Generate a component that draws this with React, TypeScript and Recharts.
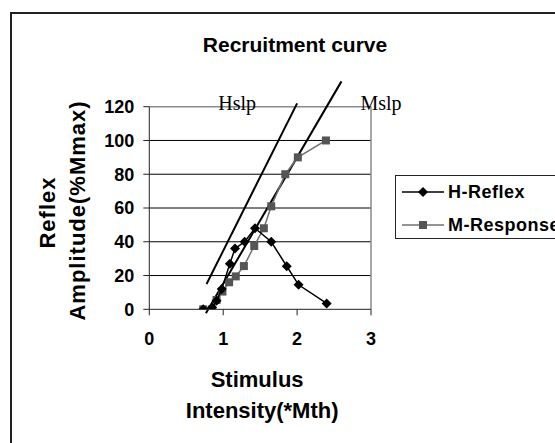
import React from "react";
import {
  ComposedChart,
  Scatter,
  XAxis,
  YAxis,
  CartesianGrid,
  ReferenceLine,
  ReferenceArea,
  ReferenceDot,
} from "recharts";

const TITLE = "Recruitment curve";
const X_TICKS = [0, 1, 2, 3];
const Y_TICKS = [0, 20, 40, 60, 80, 100, 120];

// H-Reflex (black diamonds)
const H_X = [0.73, 0.85, 0.91, 0.98, 1.09, 1.16, 1.29, 1.43, 1.65, 1.86, 2.02, 2.4];
const H_Y = [0, 1, 5, 12, 27, 36, 40, 48, 40, 25.5, 14.5, 3.5];

// M-Response (grey squares)
const M_X = [0.73, 0.85, 0.91, 0.99, 1.08, 1.17, 1.28, 1.42, 1.55, 1.65, 1.84, 2.01, 2.39];
const M_Y = [0, 0, 5.5, 10.5, 16, 19.5, 25.6, 37.5, 48, 61, 80, 90, 100];

// slope lines drawn by hand in the original
const HSLP = [
  { x: 0.775, y: 15 },
  { x: 2.0, y: 122 },
];
const MSLP = [
  { x: 0.766, y: -2.4 },
  { x: 2.6, y: 135 },
];

const hData = H_X.map((x, i) => ({ x, y: H_Y[i] }));
const mData = M_X.map((x, i) => ({ x, y: M_Y[i] }));

const C = {
  h: "#000000",
  mLine: "#707070",
  mFill: "#555555",
  grid: "#000000",
  axis: "#222222",
  border: "#8a8a8a",
};

const BOLD = "'Liberation Sans', Arial, sans-serif";
const SERIF = "'Liberation Serif', 'Times New Roman', serif";

const Diamond = ({ cx, cy }: any) => {
  if (cx == null || cy == null) return null;
  const r = 5;
  return (
    <polygon
      points={`${cx},${cy - r} ${cx + r},${cy} ${cx},${cy + r} ${cx - r},${cy}`}
      fill={C.h}
    />
  );
};

const Square = ({ cx, cy }: any) => {
  if (cx == null || cy == null) return null;
  const s = 8;
  return <rect x={cx - s / 2} y={cy - s / 2} width={s} height={s} fill={C.mFill} />;
};

const slopeText = (text: string) => ({ cx, cy }: any) => (
  <text
    x={cx}
    y={cy + 3.5}
    textAnchor="middle"
    fontFamily={SERIF}
    fontSize={20}
    fill="#000"
  >
    {text}
  </text>
);

const LEGEND_ITEMS = [
  { name: "H-Reflex", top: 16, color: C.h, line: C.h, shape: "d" },
  { name: "M-Response", top: 49, color: C.mFill, line: C.mLine, shape: "s" },
];

const LegendBox = () => (
  <div
    style={{
      position: "absolute",
      left: 395,
      top: 175,
      width: 200,
      height: 64,
      border: "1px solid #222",
      boxSizing: "border-box",
      background: "#fff",
      fontFamily: BOLD,
      fontWeight: 700,
      fontSize: 18,
      letterSpacing: 0.5,
    }}
  >
    {LEGEND_ITEMS.map((it) => (
      <div key={it.name} style={{ position: "absolute", left: 0, top: it.top - 12, height: 24, width: 200 }}>
        <svg width={50} height={24} style={{ position: "absolute", left: 6, top: 0 }}>
          <line x1={0} y1={12} x2={42} y2={12} stroke={it.line} strokeWidth={1.5} />
          {it.shape === "d" ? (
            <polygon points="21,7 26,12 21,17 16,12" fill={it.color} />
          ) : (
            <rect x={17} y={8} width={8} height={8} fill={it.color} />
          )}
        </svg>
        <span style={{ position: "absolute", left: 52, top: 0, lineHeight: "24px", color: "#000" }}>
          {it.name}
        </span>
      </div>
    ))}
  </div>
);

const XTitle = ({ viewBox }: any) => {
  const cx = viewBox.x + viewBox.width / 2;
  return (
    <g fontFamily={BOLD} fontWeight={700} fontSize={22} fill="#000">
      <text x={cx - 3} y={386.5} textAnchor="middle">Stimulus</text>
      <text x={cx + 2} y={418} textAnchor="middle">Intensity(*Mth)</text>
    </g>
  );
};

const YTitle = () => (
  <g fontFamily={BOLD} fontWeight={700} fontSize={22} fill="#000" letterSpacing={1}>
    <text x={47} y={212.5} textAnchor="middle" dominantBaseline="central" transform="rotate(-90 47 212.5)">
      Reflex
    </text>
    <text x={77} y={210.5} textAnchor="middle" dominantBaseline="central" transform="rotate(-90 77 210.5)">
      Amplitude(%Mmax)
    </text>
  </g>
);

const tickStyle = { fontFamily: BOLD, fontWeight: 700, fontSize: 18, fill: "#000" };

export default function App() {
  return (
    <div style={{ position: "absolute", left: 0, top: 0, width: 555, height: 443, overflow: "hidden", background: "#fff" }}>
      <div
        style={{
          position: "absolute",
          left: 10,
          top: 12,
          width: 700,
          height: 600,
          border: "2px solid #222",
        }}
      />
      <div
        style={{
          position: "absolute",
          left: 0,
          top: 30,
          width: 590,
          textAlign: "center",
          fontFamily: BOLD,
          fontWeight: 700,
          fontSize: 21,
          lineHeight: "30px",
        }}
      >
        {TITLE}
      </div>
      <div style={{ position: "absolute", left: 0, top: 0 }}>
        <ComposedChart
          width={555}
          height={443}
          margin={{ top: 106.7, left: 89.3, right: 184, bottom: 103.7 }}
          style={{ overflow: "visible" }}
        >
          <CartesianGrid
            horizontal
            vertical={false}
            stroke={C.grid}
            strokeWidth={1}
            horizontalValues={[20, 40, 60, 80, 100]}
          />
          <XAxis
            type="number"
            dataKey="x"
            domain={[0, 3]}
            ticks={X_TICKS}
            allowDataOverflow
            height={30}
            stroke={C.axis}
            tickSize={6}
            tickMargin={17}
            tick={tickStyle}
            label={<XTitle />}
          />
          <YAxis
            type="number"
            dataKey="y"
            domain={[0, 120]}
            ticks={Y_TICKS}
            allowDataOverflow
            width={60}
            stroke={C.axis}
            tickSize={6}
            tickMargin={9}
            tick={tickStyle}
            label={<YTitle />}
          />
          <ReferenceLine y={120} stroke={C.border} strokeWidth={1.5} />
          <ReferenceLine x={3} stroke={C.border} strokeWidth={1.5} />
          <ReferenceArea x1={0.456} x2={1.7} y1={114} y2={130} fill="#fff" fillOpacity={1} ifOverflow="visible" />
          <ReferenceArea x1={2.61} x2={3.6} y1={111.5} y2={130} fill="#fff" fillOpacity={1} ifOverflow="visible" />
          <ReferenceDot x={1.19} y={120} r={0} ifOverflow="visible" shape={slopeText("Hslp")} />
          <ReferenceDot x={3.135} y={120} r={0} ifOverflow="visible" shape={slopeText("Mslp")} />
          <ReferenceLine segment={HSLP} stroke="#000" strokeWidth={2} ifOverflow="visible" />
          <ReferenceLine segment={MSLP} stroke="#000" strokeWidth={2} ifOverflow="visible" />
          <Scatter
            name="M-Response"
            data={mData}
            line={{ stroke: C.mLine, strokeWidth: 1.5 }}
            lineType="joint"
            shape={<Square />}
            fill={C.mFill}
            isAnimationActive={false}
          />
          <Scatter
            name="H-Reflex"
            data={hData}
            line={{ stroke: C.h, strokeWidth: 1.5 }}
            lineType="joint"
            shape={<Diamond />}
            fill={C.h}
            isAnimationActive={false}
          />
        </ComposedChart>
      </div>
      <LegendBox />
    </div>
  );
}
